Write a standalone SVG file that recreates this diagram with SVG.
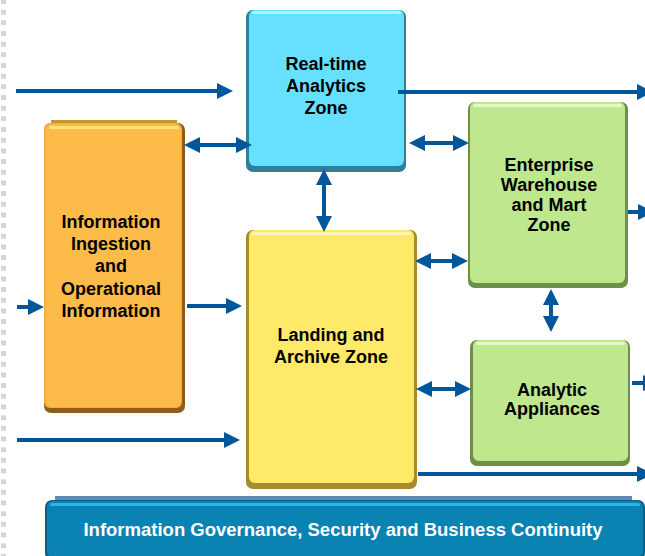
<svg xmlns="http://www.w3.org/2000/svg" width="645" height="556" viewBox="0 0 645 556">
<defs>
<style>
.lbl{font-family:"Liberation Sans",Arial,sans-serif;font-weight:bold;font-size:18px;fill:#000;text-anchor:middle}
.bar{font-family:"Liberation Sans",Arial,sans-serif;font-weight:bold;font-size:18.5px;fill:#fff;text-anchor:middle}
.ln{stroke:#00569B;stroke-width:4;fill:none}
.one{marker-end:url(#ah)}
.two{marker-start:url(#ah);marker-end:url(#ah)}
</style>
<marker id="ah" viewBox="0 0 16 16" refX="8" refY="8" markerWidth="16" markerHeight="16" markerUnits="userSpaceOnUse" orient="auto-start-reverse">
<path d="M0,0 L16,8 L0,16 z" fill="#00569B"/>
</marker>
</defs>
<rect width="645" height="556" fill="#fff"/>
<line x1="3.5" y1="-1" x2="3.5" y2="556" stroke="#d6d6d6" stroke-width="5" stroke-dasharray="5 5.67"/>

<g id="realtime">
<rect x="246" y="10" width="160" height="162" rx="7" fill="#2F7F9A"/>
<rect x="249" y="10" width="155" height="156" rx="6" fill="#66E0FE"/>
<rect x="252" y="11" width="149" height="3" rx="1.5" fill="#A8F3FF"/>
<text class="lbl" x="326" y="70">Real-time</text>
<text class="lbl" x="326" y="92">Analytics</text>
<text class="lbl" x="326" y="114">Zone</text>
</g>

<g id="ingestion">
<rect x="51" y="120" width="126" height="6" fill="#C99438"/>
<rect x="44" y="123" width="141" height="290" rx="7" fill="#8E5C1C"/>
<rect x="44" y="123" width="138" height="285" rx="6" fill="#F5AE3E"/>
<rect x="46" y="124" width="135" height="283" rx="6" fill="#FDBC4A"/>
<rect x="49" y="126" width="130" height="3" rx="1.5" fill="#FFE27A"/>
<text class="lbl" x="111" y="228">Information</text>
<text class="lbl" x="111" y="250">Ingestion</text>
<text class="lbl" x="111" y="272">and</text>
<text class="lbl" x="111" y="295">Operational</text>
<text class="lbl" x="111" y="317">Information</text>
</g>

<g id="landing">
<rect x="246" y="230" width="171" height="259" rx="7" fill="#A98A2C"/>
<rect x="249" y="230" width="165" height="253" rx="6" fill="#FFE968"/>
<rect x="252" y="232" width="159" height="3" rx="1.5" fill="#FFF6B0"/>
<text class="lbl" x="331" y="341">Landing and</text>
<text class="lbl" x="331" y="363">Archive Zone</text>
</g>

<g id="warehouse">
<rect x="468" y="102" width="160" height="186" rx="7" fill="#6E8F48"/>
<rect x="470" y="102" width="155" height="181" rx="6" fill="#BEE78E"/>
<rect x="473" y="104" width="149" height="3" rx="1.5" fill="#E4F8CC"/>
<text class="lbl" x="549" y="171">Enterprise</text>
<text class="lbl" x="549" y="191">Warehouse</text>
<text class="lbl" x="549" y="211">and Mart</text>
<text class="lbl" x="549" y="231">Zone</text>
</g>

<g id="appliances">
<rect x="470" y="340" width="160" height="126" rx="7" fill="#6E8F48"/>
<rect x="473" y="340" width="155" height="121" rx="6" fill="#BEE78E"/>
<rect x="476" y="342" width="149" height="3" rx="1.5" fill="#E4F8CC"/>
<text class="lbl" x="552" y="396">Analytic</text>
<text class="lbl" x="552" y="415">Appliances</text>
</g>

<g id="governance">
<rect x="55" y="496" width="577" height="6" fill="#5E8DB5"/>
<rect x="45" y="500" width="600" height="60" rx="7" fill="#0B5F86"/>
<rect x="47" y="501" width="596" height="56" rx="6" fill="#0A82B2"/>
<rect x="50" y="503" width="590" height="3" rx="1.5" fill="#2BB4E6"/>
<text class="bar" x="343" y="536">Information Governance, Security and Business Continuity</text>
</g>

<g id="connectors">
<line class="ln one" x1="16" y1="91" x2="225" y2="91"/>
<line class="ln two" x1="192" y1="145" x2="244" y2="145"/>
<line class="ln one" x1="398" y1="92" x2="645" y2="92"/>
<line class="ln two" x1="417" y1="143" x2="461" y2="143"/>
<line class="ln one" x1="628" y1="212" x2="646" y2="212"/>
<line class="ln two" x1="324" y1="177" x2="324" y2="224"/>
<line class="ln one" x1="17" y1="307" x2="36" y2="307"/>
<line class="ln one" x1="187" y1="306" x2="234" y2="306"/>
<line class="ln one" x1="17" y1="440" x2="232" y2="440"/>
<line class="ln two" x1="423" y1="261" x2="460" y2="261"/>
<line class="ln two" x1="551" y1="297" x2="551" y2="324"/>
<line class="ln two" x1="424" y1="389" x2="463" y2="389"/>
<line class="ln one" x1="632" y1="383" x2="651" y2="383"/>
<line class="ln one" x1="418" y1="474" x2="645" y2="474"/>
</g>
</svg>
